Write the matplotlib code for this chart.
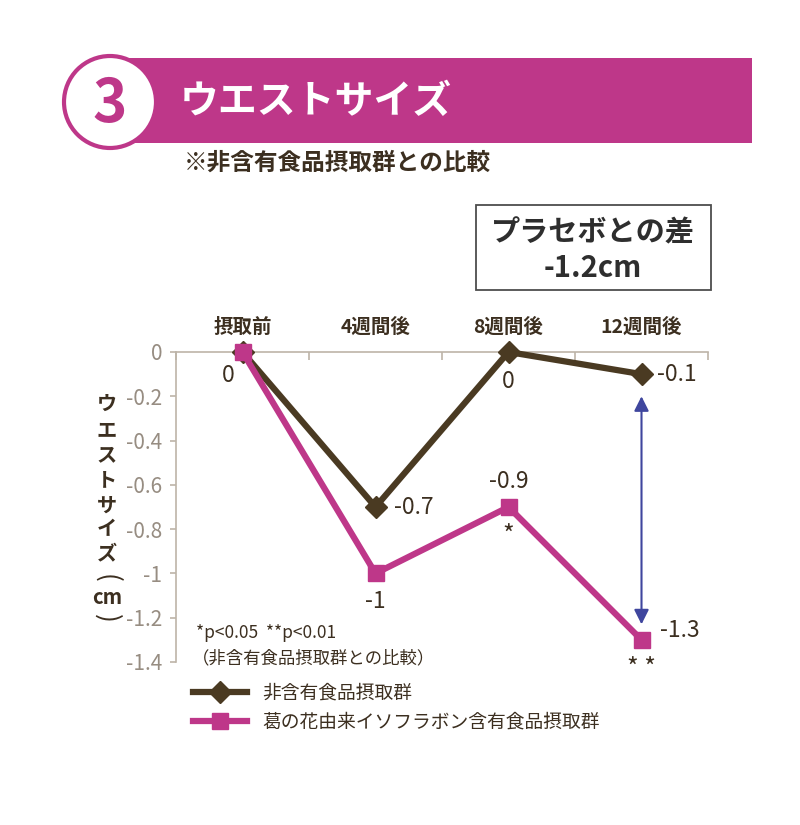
import matplotlib
matplotlib.use("Agg")
import matplotlib.pyplot as plt
from matplotlib.patches import Rectangle, Circle

plt.rcParams['font.family'] = ['Noto Sans CJK JP', 'DejaVu Sans']
plt.rcParams['axes.unicode_minus'] = False

# data
categories = ['摂取前', '4週間後', '8週間後', '12週間後']
control_values = [0, -0.7, 0, -0.1]
control_labels = ['0', '-0.7', '0', '-0.1']
kudzu_values = [0, -1.0, -0.7, -1.3]
kudzu_labels = [None, '-1', '-0.9', '-1.3']
kudzu_marks = [None, None, '*', '* *']
yticks = [0, -0.2, -0.4, -0.6, -0.8, -1.0, -1.2, -1.4]
ytick_labels = ['0', '-0.2', '-0.4', '-0.6', '-0.8', '-1', '-1.2', '-1.4']
series_names = ['非含有食品摂取群', '葛の花由来イソフラボン含有食品摂取群']

MAGENTA = '#be3789'
BROWN = '#4a3a22'
TEXT = '#3c2f20'
AXGRAY = '#bdb4a8'
TICKGRAY = '#978d82'
BLUE = '#3f469e'

fig = plt.figure(figsize=(8, 8.25), dpi=100)

# decoration layer in pixel coordinates
bg = fig.add_axes([0, 0, 1, 1], zorder=0)
bg.set_xlim(0, 800)
bg.set_ylim(825, 0)
bg.axis('off')

bg.add_patch(Rectangle((120, 58), 632, 85, color=MAGENTA, lw=0))
bg.add_patch(Circle((110, 102), 46, fc='white', ec=MAGENTA, lw=3))
bg.text(110, 105, '3', color=MAGENTA, fontsize=42, ha='center', va='center',
        fontweight='bold')
bg.text(180, 101, 'ウエストサイズ', color='white', fontsize=28,
        ha='left', va='center', fontweight='bold')
bg.text(184, 163, '※非含有食品摂取群との比較', color=TEXT, fontsize=17,
        ha='left', va='center', fontweight='bold')

bg.add_patch(Rectangle((476, 205), 235, 85, fill=False, ec='#4d4d4d', lw=1.3))
bg.text(593, 232, 'プラセボとの差', color='#2e2e2e', fontsize=21,
        ha='center', va='center', fontweight='bold')
bg.text(593, 268, '-1.2cm', color='#2e2e2e', fontsize=21,
        ha='center', va='center', fontweight='bold')

# vertical y label (stacked characters, brackets turned sideways)
ylab_parts = ['ウ', 'エ', 'ス', 'ト', 'サ', 'イ', 'ズ', '(', 'cm', ')']
ylab_y = [403, 431, 455, 480, 505, 529, 553, 578, 598, 618]
for part, yy in zip(ylab_parts, ylab_y):
    if part in ('(', ')'):
        bg.text(107, yy, part, color=TEXT, fontsize=19, ha='center',
                va='center', rotation=270, rotation_mode='anchor')
    else:
        bg.text(107, yy, part, color=TEXT, fontsize=14.5, ha='center',
                va='center', fontweight='bold')

bg.text(196, 633, '*p<0.05  **p<0.01', color=TEXT, fontsize=12.5,
        ha='left', va='center')
bg.text(192, 658, '（非含有食品摂取群との比較）', color=TEXT, fontsize=12.5,
        ha='left', va='center')

# main chart
ax = fig.add_axes([176 / 800, 1 - 662 / 825, 532 / 800, 310 / 825], zorder=2)
ax.patch.set_alpha(0)
x = list(range(len(categories)))

l1, = ax.plot(x, control_values, color=BROWN, lw=4.5, marker='D',
              markersize=11, clip_on=False, zorder=3)
l2, = ax.plot(x, kudzu_values, color=MAGENTA, lw=4.5, marker='s',
              markersize=11, clip_on=False, zorder=4)

ax.set_xlim(-0.5, 3.5)
ax.set_ylim(-1.4, 0)
ax.set_yticks(yticks)
ax.set_yticklabels(ytick_labels)

for s in ['bottom', 'right']:
    ax.spines[s].set_visible(False)
for s in ['left', 'top']:
    ax.spines[s].set_color(AXGRAY)
    ax.spines[s].set_linewidth(1.2)

ax.xaxis.tick_top()
ax.set_xticks(x)
ax.set_xticklabels(categories, fontweight='bold')
ax.set_xticks([i - 0.5 for i in range(len(categories) + 1)], minor=True)
ax.tick_params(axis='x', which='major', length=0, pad=11, labelsize=14,
               labelcolor=TEXT)
ax.tick_params(axis='x', which='minor', direction='in', length=6,
               color=AXGRAY, width=1.2)
ax.tick_params(axis='y', direction='out', length=4, color=AXGRAY, width=1.2,
               labelcolor=TICKGRAY, labelsize=15, pad=6)

# value labels
ctrl_offsets = [(-10, -17, 'center'), (13, 0, 'left'), (0, -21, 'center'), (11, 0, 'left')]
for xi, yi, lab, (dx, dy, ha) in zip(x, control_values, control_labels, ctrl_offsets):
    ax.annotate(lab, (xi, yi), xytext=(dx, dy), textcoords='offset points',
                ha=ha, va='center', fontsize=16.5, color=TEXT)

kudzu_offsets = [None, (0, -20, 'center'), (0, 18, 'center'), (13, 7, 'left')]
for xi, yi, lab, off in zip(x, kudzu_values, kudzu_labels, kudzu_offsets):
    if lab is None:
        continue
    dx, dy, ha = off
    ax.annotate(lab, (xi, yi), xytext=(dx, dy), textcoords='offset points',
                ha=ha, va='center', fontsize=16.5, color=TEXT)

# significance marks
for xi, yi, mark in zip(x, kudzu_values, kudzu_marks):
    if mark is None:
        continue
    ax.annotate(mark, (xi, yi), xytext=(0, -21), textcoords='offset points',
                ha='center', va='center', fontsize=18, color=TEXT)

# difference arrow at the last time point
ax.annotate('', xy=(x[-1], kudzu_values[-1] + 0.07),
            xytext=(x[-1], control_values[-1] - 0.1),
            arrowprops=dict(arrowstyle='<|-|>', color=BLUE, lw=1.5,
                            mutation_scale=22, shrinkA=0, shrinkB=0))

ax.legend([l1, l2], series_names, loc='upper left',
          bbox_to_anchor=(193 / 800, 1 - 683 / 825),
          bbox_transform=fig.transFigure, frameon=False, fontsize=13.5,
          handlelength=2.9, handletextpad=0.8, labelspacing=0.4,
          borderpad=0, borderaxespad=0, labelcolor=TEXT)

fig.savefig('out.png', dpi=100)
